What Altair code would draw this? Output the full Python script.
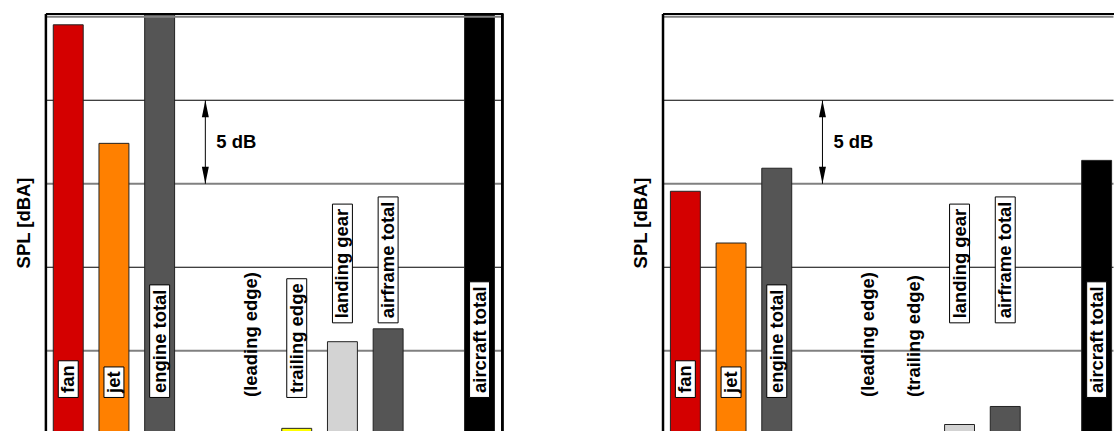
import altair as alt
import pandas as pd

# ---------------- data ----------------
categories = ["fan", "jet", "engine total", "leading edge", "trailing edge",
              "landing gear", "airframe total", "aircraft total"]
slots = [0, 1, 2, 4, 5, 6, 7, 9]
bar_colors = ["#d40000", "#ff8000", "#555555", "#2e8b57", "#ffff00",
              "#d3d3d3", "#555555", "#000000"]

spl_left = [99.52, 92.42, 100.3, None, 75.35, 80.54, 81.31, 100.4]
spl_right = [89.55, 86.45, 90.93, None, None, 75.58, 76.66, 91.40]

label_level = [77.2, 77.2, 77.2, 77.2, 77.2, 81.67, 81.67, 77.2]
boxed_left = [True, True, True, False, True, True, True, True]
boxed_right = [True, True, True, False, False, True, True, True]

grid_levels = [80, 85, 90, 95]
grid_colors = ["#808080", "#000000", "#808080", "#000000"]
grid_widths = [2.0, 1.2, 2.0, 1.2]
top_level = [100]

arrow_slot = [3]
arrow_from = [95]
arrow_to = [90]
arrow_label = ["5 dB"]
arrow_label_level = [92.5]

y_title = "SPL [dBA]"

# ---------------- layout / style ----------------
Y_MIN, Y_MAX = 75.16, 100.2
PLOT_H = 419
LEFT_W = 458
RIGHT_W = 452
SLOT_N = 10
FONT = "Liberation Sans"
FS = 18.5
PX_PER_DB = PLOT_H / (Y_MAX - Y_MIN)
BOX_PAD = 4.5

# Arial/Liberation bold advance widths (per 1000 em)
CW = {'a': 556, 'b': 611, 'c': 556, 'd': 611, 'e': 556, 'f': 333, 'g': 611,
      'h': 611, 'i': 278, 'j': 278, 'k': 556, 'l': 278, 'm': 889, 'n': 611,
      'o': 611, 'p': 611, 'q': 611, 'r': 389, 's': 556, 't': 333, 'u': 611,
      'v': 556, 'w': 778, 'x': 556, 'y': 556, 'z': 500, ' ': 278, '(': 333,
      ')': 333}


def text_px(s):
    return sum(CW.get(c, 556) for c in s) / 1000.0 * FS


yscale = alt.Scale(domain=[Y_MIN, Y_MAX], nice=False, zero=False, padding=0)
yaxis = alt.Axis(title=y_title, labels=False, ticks=False, grid=False,
                 domain=True, domainColor="black", domainWidth=2.5,
                 titleFont=FONT, titleFontSize=FS, titleFontWeight="bold",
                 titleColor="black", titlePadding=12, zindex=1)


def panel(values, boxed, width, right_border):
    xmax = -0.5 + SLOT_N * width / LEFT_W
    xscale = alt.Scale(domain=[-0.5, xmax], nice=False, zero=False, padding=0)
    xaxis = alt.Axis(orient="top", labels=False, ticks=False, grid=False,
                     domain=True, domainColor="black", domainWidth=2, zindex=1)

    def X(f):
        return alt.X(f, type="quantitative", scale=xscale, axis=xaxis, title=None)

    def Y(f):
        return alt.Y(f, type="quantitative", scale=yscale, axis=yaxis)

    df = pd.DataFrame({
        "name": categories, "slot": slots, "spl": values,
        "color": bar_colors, "level": label_level, "boxed": boxed,
    })
    df["label"] = [n if b else "(" + n + ")" for n, b in zip(df["name"], df["boxed"])]
    df["box_top"] = [lv + (text_px(t) + 2 * BOX_PAD) / PX_PER_DB
                     for lv, t in zip(df["level"], df["label"])]
    df["text_start"] = [lv + ((BOX_PAD if b else 0.5) / PX_PER_DB)
                        for lv, b in zip(df["level"], df["boxed"])]
    bars_df = df.dropna(subset=["spl"])
    box_df = df[df["boxed"]]

    grid_df = pd.DataFrame({"g": grid_levels, "c": grid_colors, "w": grid_widths})
    top_df = pd.DataFrame({"g": top_level})
    arrow_df = pd.DataFrame({"slot": arrow_slot, "a0": arrow_from, "a1": arrow_to,
                             "t": arrow_label, "tl": arrow_label_level})

    grid = alt.Chart(grid_df).mark_rule().encode(
        y=Y("g"),
        stroke=alt.Stroke("c:N", scale=None),
        strokeWidth=alt.StrokeWidth("w:Q", scale=None),
    )
    bars = alt.Chart(bars_df).mark_bar(width=30, stroke="#222222", strokeWidth=1,
                                       clip=True).encode(
        x=X("slot"), y=Y("spl"), y2=alt.datum(70),
        fill=alt.Fill("color:N", scale=None),
    )
    topline = alt.Chart(top_df).mark_rule(color="#808080", strokeWidth=2).encode(
        y=Y("g"))
    boxes = alt.Chart(box_df).mark_bar(width=20, fill="white", stroke="black",
                                       strokeWidth=1).encode(
        x=X("slot"), y=Y("level"), y2="box_top")
    texts = alt.Chart(df).mark_text(angle=270, align="left", baseline="middle",
                                    font=FONT, fontSize=FS, fontWeight="bold",
                                    color="black").encode(
        x=X("slot"), y=Y("text_start"), text="label")
    shaft = alt.Chart(arrow_df).mark_rule(color="black", strokeWidth=1).encode(
        x=X("slot"), y=Y("a0"), y2="a1")
    head_up = alt.Chart(arrow_df).mark_point(
        shape="M0,0L0.41,2L-0.41,2Z", filled=True, size=289, color="black",
        opacity=1).encode(x=X("slot"), y=Y("a0"))
    head_down = alt.Chart(arrow_df).mark_point(
        shape="M0,0L0.41,-2L-0.41,-2Z", filled=True, size=289, color="black",
        opacity=1).encode(x=X("slot"), y=Y("a1"))
    atext = alt.Chart(arrow_df).mark_text(align="left", baseline="middle", dx=11,
                                          font=FONT, fontSize=FS, fontWeight="bold",
                                          color="black").encode(
        x=X("slot"), y=Y("tl"), text="t")

    layers = [grid, bars, topline, boxes, texts, shaft, head_up, head_down, atext]
    if right_border:
        border = alt.Chart(grid_df).mark_rule(color="black", strokeWidth=2).encode(
            x=alt.X(datum=xmax, type="quantitative", scale=xscale, axis=xaxis,
                    title=None))
        layers.append(border)
    return alt.layer(*layers).properties(width=width, height=PLOT_H)


left = panel(spl_left, boxed_left, LEFT_W, True)
right = panel(spl_right, boxed_right, RIGHT_W, False)

chart = alt.hconcat(left, right, spacing=160.5, bounds="flush").properties(
    padding={"left": 13.5, "top": 11, "right": 0, "bottom": 0},
    background="white",
).configure_view(stroke="transparent")

chart.save("out.html", embed_options={"renderer": "svg", "actions": False})
